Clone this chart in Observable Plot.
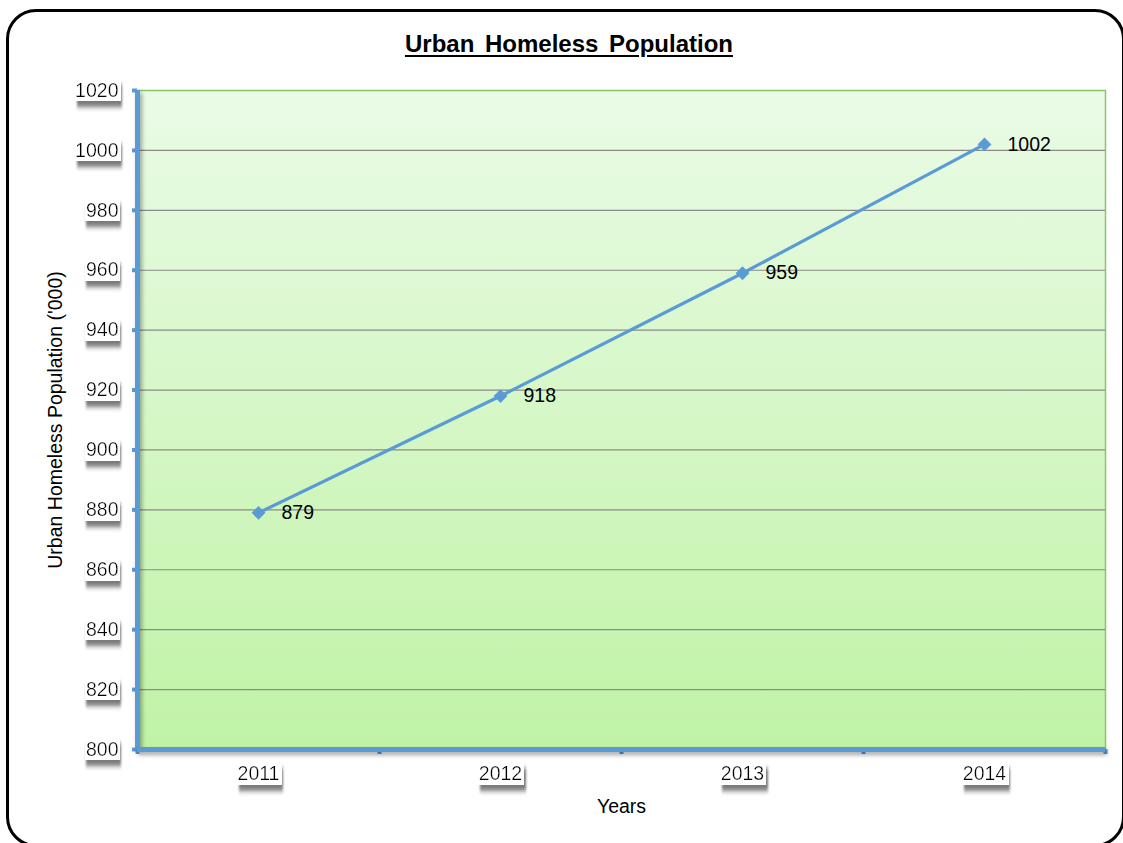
<!DOCTYPE html>
<html>
<head>
<meta charset="utf-8">
<script src="https://cdn.jsdelivr.net/npm/d3@7"></script>
<script src="https://cdn.jsdelivr.net/npm/@observablehq/plot@0.6"></script>
<style>
  html, body { margin: 0; padding: 0; background: #fff; }
  #chart { position: relative; width: 1123px; height: 843px; overflow: hidden; font-family: Arial, "Liberation Sans", sans-serif; }
  #border { position: absolute; left: 6px; top: 9px; width: 1113px; height: 832px; border: 3px solid #000; border-radius: 30px; pointer-events: none; z-index: 2; }
  #title { position: absolute; left: 0; width: 1138px; top: 30px; text-align: center; font-size: 24px; font-weight: bold; text-decoration: underline; text-underline-offset: 3px; word-spacing: 4px; color: #000; z-index: 3; }
  #plot { position: absolute; left: 0; top: 0; }
</style>
</head>
<body>
<div id="chart">
  <div id="plot"></div>
  <div id="title">Urban Homeless Population</div>
  <div id="border"></div>
</div>
<script>
// Urban homeless population, thousands
const years = [2011, 2012, 2013, 2014];
const population = [879, 918, 959, 1002];
const yTicks = [800, 820, 840, 860, 880, 900, 920, 940, 960, 980, 1000, 1020];
const yearEdges = [2010.5, 2011.5, 2012.5, 2013.5, 2014.5];
const yTitle = "Urban Homeless Population ('000)";
const xTitle = "Years";

const data = years.map((year, i) => ({year, value: population[i]}));
const blue = "#5b9bd5";
const font = "Arial, 'Liberation Sans', sans-serif";
const fs = 19.5;

const chart = Plot.plot({
  width: 1123,
  height: 843,
  marginLeft: 137,
  marginRight: 18,
  marginTop: 90,
  marginBottom: 94,
  style: {fontFamily: font, fontSize: `${fs}px`, color: "#000", background: "transparent"},
  x: {domain: [2010.5, 2014.5], axis: null},
  y: {domain: [800, 1020], axis: null},
  marks: [
    Plot.frame({fill: "url(#plotBg)", stroke: "#8cc46a", strokeWidth: 1.5}),
    Plot.gridY(yTicks.slice(1, -1), {stroke: "#8a8a8a", strokeOpacity: 1, strokeWidth: 1.2}),
    // axis tick marks
    Plot.axisY(yTicks, {tickSize: 5, stroke: blue, strokeWidth: 4, fill: "none", label: null}),
    Plot.axisX(yearEdges, {tickSize: 5, stroke: blue, strokeWidth: 4, fill: "none", label: null}),
    // axis lines
    Plot.ruleX([2010.5], {stroke: blue, strokeWidth: 5}),
    Plot.ruleY([800], {stroke: blue, strokeWidth: 5}),
    // axis tick labels
    Plot.axisY(yTicks, {tickSize: 0, tickPadding: 19, fontSize: fs, label: null, tickFormat: d => String(d)}),
    Plot.axisX(years, {tickSize: 0, tickPadding: 17, fontSize: fs, label: null, tickFormat: d => String(d)}),
    // series
    Plot.line(data, {x: "year", y: "value", stroke: blue, strokeWidth: 3.2}),
    Plot.dot(data, {x: "year", y: "value", symbol: "diamond2", r: 6, fill: blue, stroke: blue, strokeWidth: 0.5}),
    Plot.text(data, {x: "year", y: "value", text: d => String(d.value), dx: 23, textAnchor: "start", fontSize: fs, fill: "#000"}),
    // axis titles
    Plot.text([yTitle], {frameAnchor: "left", rotate: -90, dx: -82, textAnchor: "middle", lineAnchor: "middle", fontSize: fs, fill: "#000", ariaLabel: "y-title"}),
    Plot.text([xTitle], {frameAnchor: "bottom", dy: 57, lineAnchor: "middle", fontSize: fs, fill: "#000"})
  ]
});

// background gradient and label shadow filter
const svg = d3.select(chart);
const defs = svg.insert("defs", ":first-child");
const grad = defs.append("linearGradient").attr("id", "plotBg").attr("x1", 0).attr("y1", 0).attr("x2", 0).attr("y2", 1);
grad.append("stop").attr("offset", "0%").attr("stop-color", "#eafbe6");
grad.append("stop").attr("offset", "100%").attr("stop-color", "#c0f3a6");

const f = defs.append("filter").attr("id", "labelBox")
  .attr("filterUnits", "objectBoundingBox").attr("primitiveUnits", "objectBoundingBox")
  .attr("x", -0.1).attr("y", -0.2).attr("width", 1.4).attr("height", 1.8);
f.append("feFlood").attr("flood-color", "#222").attr("flood-opacity", 0.6)
  .attr("x", 0).attr("y", 0).attr("width", 1.02).attr("height", 1).attr("result", "sh");
f.append("feOffset").attr("in", "sh").attr("dx", 0.04).attr("dy", 0.25)
  .attr("x", -0.1).attr("y", -0.2).attr("width", 1.4).attr("height", 1.8).attr("result", "sho");
f.append("feGaussianBlur").attr("in", "sho").attr("stdDeviation", "0.03 0.13")
  .attr("x", -0.1).attr("y", -0.2).attr("width", 1.4).attr("height", 1.8).attr("result", "blur");
f.append("feFlood").attr("flood-color", "#fff")
  .attr("x", -0.02).attr("y", 0).attr("width", 1.06).attr("height", 1).attr("result", "white");
const merge = f.append("feMerge").attr("x", -0.1).attr("y", -0.2).attr("width", 1.4).attr("height", 1.8);
merge.append("feMergeNode").attr("in", "blur");
merge.append("feMergeNode").attr("in", "white");
merge.append("feMergeNode").attr("in", "SourceGraphic");

svg.selectAll('g[aria-label="y-axis tick label"] text, g[aria-label="x-axis tick label"] text')
  .attr("filter", "url(#labelBox)");
svg.selectAll('g[aria-label="rule"]').style("filter", "drop-shadow(2px 3px 2px rgba(0,0,0,0.35))");
svg.selectAll('g[aria-label="y-title"] text').style("word-spacing", "7px");

document.getElementById("plot").appendChild(chart);
</script>
</body>
</html>
